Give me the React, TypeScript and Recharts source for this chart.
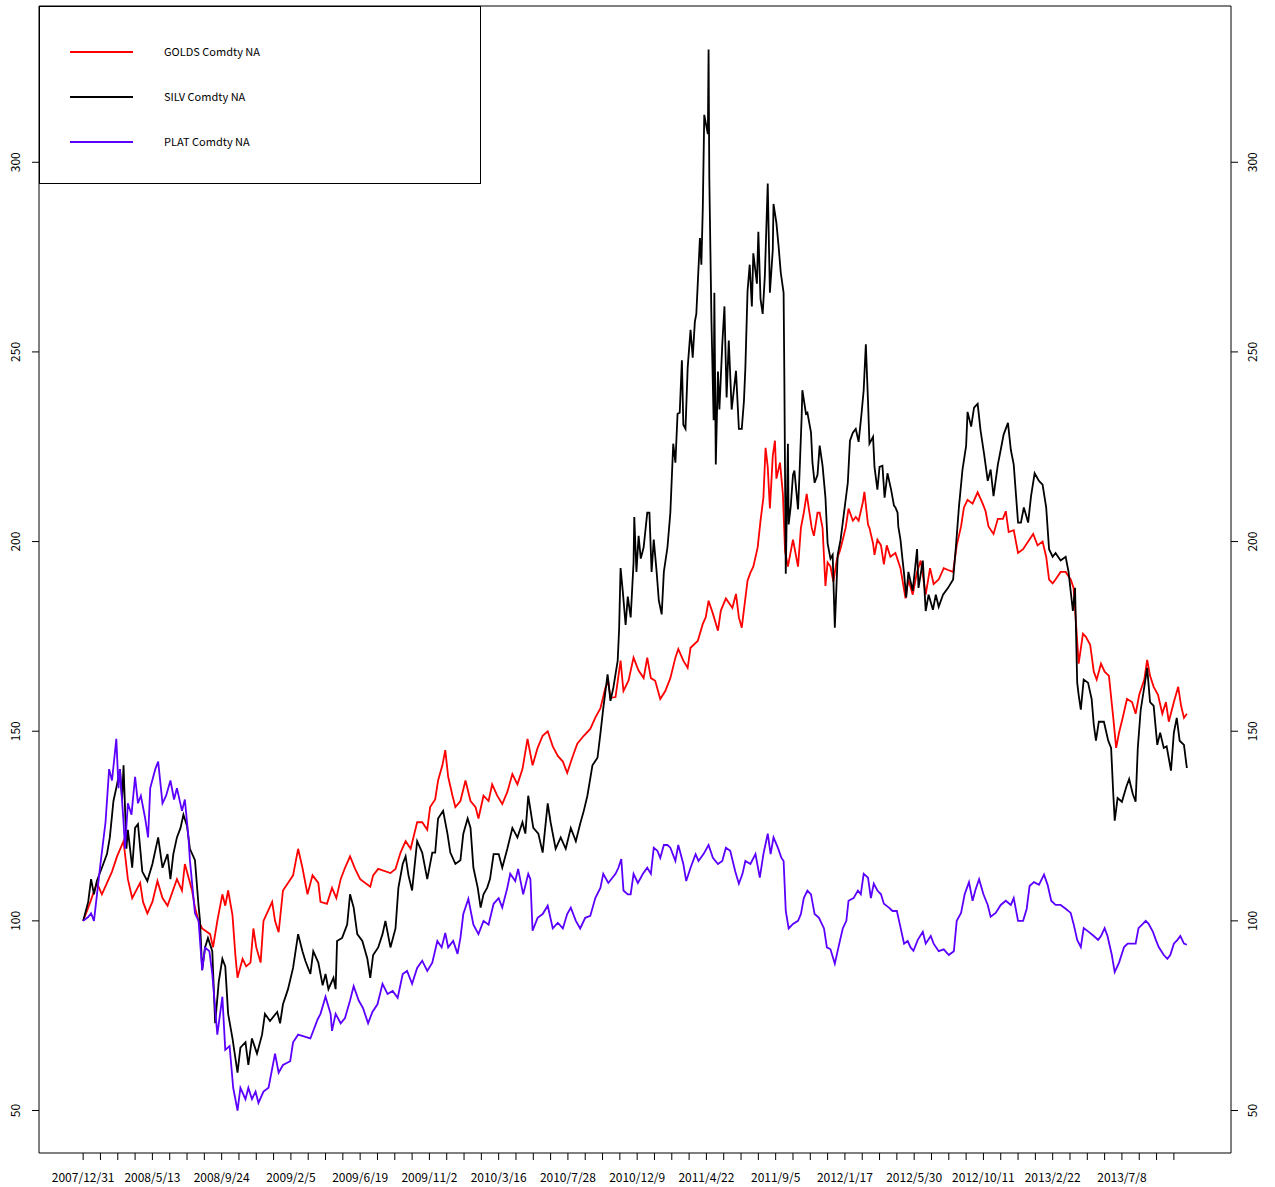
import React from "react";
import {
  LineChart,
  Line,
  XAxis,
  YAxis,
  Legend,
  ReferenceArea,
} from "recharts";

// observation number, index level (2007/12/31 = 100)
const gold: [number, number][] = [
  [1,100],[11,105],[20,110],[27,107],[41,113],[48,117],[57,121],[63,111],[69,106],[80,110],[84,105],[90,102],[97,105],[104,110.5],[111,106],[118,104],[131,111],[138,108],[142,115],[152,108],[156,103.5],[161,100],[166,98],[177,96.5],[181,93],[187,100],[194,107],[198,104],[202,108],[208,101.5],[212,91],[215,85],[222,90],[227,88],[233,89],[237,98],[241,93],[247,89],[251,100],[263,105],[267,100],[272,97],[278,108],[285,110],[292,112],[299,119],[305,114],[312,107],[319,112],[327,110],[330,105],[339,104.5],[346,108.7],[352,106],[358,111],[364,114],[371,117],[378,113.7],[385,111],[399,109],[403,112],[410,113.7],[427,112.6],[434,113.7],[441,118],[448,121],[455,119],[464,126],[471,126],[478,124],[482,130],[489,132],[493,137],[499,141],[503,145],[507,138],[513,133],[517,130],[524,131.6],[531,137],[538,131.6],[545,130],[549,127],[556,133],[563,131.6],[568,136],[575,133],[582,130.8],[589,134],[596,138.7],[603,136],[610,140],[617,148],[624,141],[631,145.6],[638,148.8],[645,150],[652,146],[659,143.5],[666,142],[672,139],[679,143],[686,146.7],[695,148.8],[704,150.6],[711,153.6],[718,156],[725,161.5],[729,163],[732,158.8],[739,159],[746,168.6],[750,160.6],[757,163.3],[764,169.4],[771,166],[778,164],[783,169.4],[788,164],[794,163.3],[801,158.5],[808,160.6],[815,164],[822,169.4],[826,171.7],[833,168.6],[839,166.7],[843,172],[853,173.8],[860,178.3],[864,180],[868,184.4],[874,181],[881,176.5],[885,181.8],[892,185],[901,182.5],[906,186.2],[910,180],[914,177.3],[917,182],[922,189.7],[926,191.8],[930,193.4],[936,198.4],[940,205.5],[944,211.6],[947,224.7],[950,219.7],[953,208.7],[957,222.6],[960,226.6],[962,216.6],[967,220.8],[971,212.6],[974,197.5],[978,193.4],[980,195.5],[985,200.5],[987,198.5],[992,193.4],[996,203.6],[1000,207.6],[1004,212.6],[1007,208.7],[1011,203.6],[1014,201.5],[1019,207.6],[1022,207.6],[1026,203.6],[1030,188.3],[1033,194.5],[1037,193.4],[1041,189.4],[1046,195.5],[1050,197.5],[1054,200.5],[1058,203.6],[1062,208.7],[1068,205.5],[1072,206.5],[1076,205.5],[1082,210.5],[1084,213.1],[1089,204.5],[1091,203.6],[1096,199.5],[1098,196.5],[1102,200.5],[1107,199],[1111,194],[1115,199],[1120,196],[1127,197],[1134,193],[1141,185],[1145,190],[1151,186],[1157,192],[1162,195],[1169,186],[1175,193],[1180,188.8],[1187,190],[1194,193],[1200,192.5],[1207,192],[1212,199],[1218,204],[1222,209],[1227,211],[1234,210],[1241,213],[1248,210],[1252,208],[1256,204],[1263,202],[1269,206],[1276,206],[1280,208],[1284,202.5],[1291,203],[1297,197],[1304,198],[1311,200],[1318,202],[1324,199],[1331,200],[1336,196],[1340,190],[1345,189],[1349,190],[1356,192],[1363,192],[1370,190],[1374,187.8],[1379,173.8],[1381,167.8],[1387,175.7],[1391,174.9],[1397,172.8],[1402,165.7],[1406,163.6],[1412,167.8],[1417,165.7],[1423,164.6],[1429,153.5],[1433,145.6],[1437,149.6],[1442,153.5],[1448,158.5],[1455,157.7],[1460,154.6],[1465,159.6],[1472,163.6],[1476,168.8],[1480,164.6],[1485,161.7],[1491,159.6],[1497,154.6],[1502,157.7],[1506,152.5],[1513,157.7],[1519,161.7],[1523,156.7],[1527,153.5],[1531,154.6],
];

const silver: [number, number][] = [
  [1,100],[8,105],[12,111],[16,107],[20,110.5],[27,114],[34,117.6],[38,122],[43,131.6],[48,136],[52,140],[55,132],[57,141],[61,119],[63,124],[69,114],[73,124.5],[77,125.5],[83,113],[90,110.5],[97,115],[105,122],[111,114],[118,117.6],[122,111],[126,117.6],[131,122],[136,124.5],[140,128],[145,125],[149,119],[156,116],[161,104],[163,100],[166,87],[170,93],[174,95.5],[180,92],[184,73],[189,84],[194,90],[198,88],[202,75.5],[208,69],[215,60],[219,66.6],[226,68],[230,62],[235,69],[242,65],[249,70],[253,75.5],[260,73.6],[270,76],[274,73],[278,78],[285,82],[292,87.6],[299,96.5],[305,92],[309,89.5],[316,86],[320,92],[327,89],[333,83],[337,86],[341,82],[348,85],[351,82],[353,94.7],[360,95.5],[367,99],[371,107],[376,103.5],[381,96.5],[388,94.7],[395,90],[399,85],[403,91],[410,93],[416,96.5],[420,100],[427,93],[434,98],[438,108.7],[444,115],[448,117],[452,112],[457,108],[464,121],[471,118],[478,111],[485,118],[489,118],[493,127],[500,129],[506,123],[510,118],[517,115],[524,116],[528,123],[534,127],[538,124.5],[542,114],[548,108.7],[552,103.5],[556,107],[561,108.7],[565,111],[570,117.6],[577,117.6],[582,114],[589,119],[596,124.5],[603,122],[610,126],[614,123],[618,133],[625,124.5],[632,123],[638,118],[645,131],[649,126],[656,119],[663,122],[670,119],[677,124.5],[684,121],[690,125.6],[695,129],[700,133],[707,141],[714,143],[718,149.3],[722,156],[728,165],[732,158],[736,161.5],[742,168.6],[744,177],[746,193],[749,187],[753,178],[756,185.5],[760,180],[764,194.5],[765,206.5],[768,192],[771,201.5],[774,195.5],[778,198.5],[783,207.6],[786,207.6],[789,192],[792,200.5],[796,192],[799,184.5],[803,180.8],[806,192],[811,198.5],[815,207.6],[819,225.8],[822,220.8],[825,233.7],[828,234],[831,247.8],[833,230.8],[836,229.7],[839,245.8],[843,255.8],[846,248.5],[849,258],[851,260],[853,268],[856,280],[858,273],[860,288],[862,312.5],[867,307.4],[868,329.7],[869,296],[872,258],[875,232],[876,265.6],[878,220.3],[881,244.8],[883,234.8],[887,252],[890,262],[893,238],[896,253],[900,234.8],[903,239.9],[906,245],[910,229.7],[914,229.7],[917,237],[919,245.8],[922,266],[925,273],[928,262],[930,276],[935,268],[937,281.7],[940,264],[943,260],[946,270],[950,294.4],[953,265.6],[957,276.9],[958,289],[962,284],[965,278],[968,271],[972,265.6],[973,244],[975,191.5],[978,225.8],[979,204.5],[982,209.5],[985,217.6],[987,218.7],[992,208.5],[994,217.6],[997,232.8],[998,239.9],[1003,233.7],[1005,234],[1010,228.7],[1012,220.8],[1015,215.5],[1019,217.6],[1022,225.3],[1026,220],[1030,211.6],[1033,199.5],[1037,195.5],[1040,196.5],[1043,177.3],[1047,196.5],[1051,200.5],[1055,206.5],[1061,215.5],[1064,226.6],[1068,228.7],[1072,229.7],[1076,226.3],[1080,233.7],[1083,239.9],[1086,252],[1089,237],[1091,225.8],[1096,227.6],[1098,219.7],[1102,213.7],[1105,219.7],[1109,220],[1112,211.6],[1116,218],[1121,213.7],[1125,209.5],[1127,209],[1130,207.6],[1131,204],[1134,200.5],[1137,195],[1139,191.5],[1142,185.3],[1145,192],[1151,187],[1157,198],[1159,187.8],[1165,195],[1169,181.7],[1173,186],[1179,182],[1183,186],[1187,182.8],[1193,186],[1200,187.8],[1207,190],[1211,199],[1215,209],[1220,219],[1225,225.2],[1227,234.2],[1232,230.3],[1236,235.3],[1241,236.3],[1245,229.3],[1250,223],[1255,216],[1259,219],[1263,212],[1269,220.3],[1273,224.2],[1277,228.2],[1283,231.3],[1287,224.2],[1291,220.3],[1297,205],[1301,205],[1305,209],[1311,205],[1315,212],[1320,218],[1326,216],[1331,215],[1336,209],[1340,198],[1345,196],[1349,197],[1356,195],[1363,196],[1367,192],[1373,181.7],[1376,187.8],[1379,162.8],[1381,159.6],[1384,155.7],[1388,163.6],[1394,162.8],[1399,158.5],[1402,151.7],[1405,147.5],[1409,152.5],[1416,152.5],[1422,147.5],[1426,145.6],[1429,133.5],[1431,126.4],[1435,132.4],[1441,131.4],[1447,135.3],[1451,137.4],[1456,133.5],[1460,131.4],[1463,145.6],[1467,155.6],[1472,161.7],[1476,166.7],[1480,157.7],[1485,156.7],[1490,146.4],[1494,149.6],[1499,145.6],[1503,146],[1509,139.6],[1513,149.6],[1517,153.5],[1521,147.5],[1527,146.4],[1531,140.3],
];

const plat: [number, number][] = [
  [1,100],[8,101],[12,102],[16,100],[25,115],[32,126],[37,140],[41,137],[47,148],[50,135],[52,140],[57,126],[59,119],[63,131],[68,128],[73,138],[77,131],[81,133],[87,127],[91,122],[94,135],[101,140],[105,142],[111,131],[116,133],[122,137],[127,132],[131,135],[138,129],[142,132],[147,122],[149,116],[156,102],[161,100],[166,87],[170,93],[176,92],[180,86],[187,70],[194,80],[198,66],[204,67],[209,56],[215,50],[219,56],[226,53],[230,56],[235,53],[240,55],[244,52],[251,55],[258,56],[267,65],[272,60],[278,62],[288,63],[292,68],[299,70],[308,69.5],[316,69],[326,74],[330,75.5],[337,80],[344,75.5],[346,71],[351,75.5],[358,73],[364,74.4],[371,79],[376,82.8],[383,79],[389,77],[396,73],[402,76],[409,78],[416,83.4],[423,80.7],[430,81.5],[437,79.7],[444,86],[450,86.8],[457,83.4],[464,87.6],[471,89.5],[478,86.8],[485,89],[492,94.7],[498,93],[503,96.8],[507,93],[514,94.7],[520,91.3],[524,95.5],[528,101.8],[535,105.8],[542,99],[549,96.5],[556,100],[563,99],[570,104.5],[577,106],[582,103.5],[589,108.7],[593,112.4],[600,110.5],[604,113.7],[611,107],[618,112.4],[621,111],[624,97.4],[631,100.8],[638,101.8],[645,104],[652,98],[659,99.5],[666,98],[672,101.8],[677,103.5],[684,100],[690,98],[697,100.8],[704,101.3],[711,106],[718,108.7],[722,112.4],[729,110],[739,112.4],[743,114],[747,116.3],[750,108],[756,107],[760,107],[764,112.4],[770,110],[777,112.4],[783,114],[788,112.4],[792,119.3],[797,118.5],[801,116.6],[806,120],[811,120],[815,119.3],[822,115.8],[826,120],[833,115],[837,110.5],[843,114],[850,117.6],[854,115.8],[861,117.6],[868,120],[874,116.6],[881,115],[887,115.8],[892,119.3],[898,118.5],[905,113],[910,109.8],[915,112.4],[919,115.8],[926,115],[933,117.6],[939,111.4],[944,117.6],[950,123],[954,117.6],[958,122],[964,119.3],[969,116.6],[972,115.8],[975,102.6],[979,98],[985,99.2],[992,100],[996,101.8],[1000,106],[1005,108],[1010,107],[1015,101.8],[1021,100.8],[1028,98],[1032,93],[1037,92.5],[1043,88.7],[1048,93],[1054,98],[1059,100],[1062,105.3],[1069,106],[1075,108],[1079,107],[1083,112.4],[1089,111.4],[1093,106],[1097,109.8],[1102,108],[1107,107],[1111,104.5],[1118,103.5],[1123,102.6],[1129,102.6],[1133,99.2],[1139,94],[1144,94.7],[1148,93],[1152,92.1],[1158,95],[1165,97.1],[1169,94],[1176,96],[1180,94],[1187,92],[1194,92.5],[1201,91],[1208,92],[1212,100],[1218,102.1],[1223,107],[1229,110.2],[1234,105.3],[1238,108.2],[1243,111],[1249,107],[1255,104.2],[1259,101.1],[1266,102.1],[1273,104.2],[1280,105.3],[1287,104.2],[1291,106],[1297,100],[1304,100],[1309,103.2],[1313,109.2],[1319,110.2],[1326,109.5],[1333,112.2],[1338,109.5],[1343,105.3],[1349,104.2],[1356,104.2],[1363,103.2],[1370,102.1],[1374,99.2],[1379,95],[1384,93.1],[1388,98.1],[1395,97.1],[1402,96],[1408,95],[1412,96],[1417,98.1],[1421,96],[1427,91],[1431,86.5],[1437,89],[1444,93.1],[1449,94],[1456,94],[1460,94],[1464,98.1],[1470,99.2],[1474,100],[1478,99.2],[1484,97.1],[1488,95],[1492,93.1],[1499,91],[1504,90],[1508,91],[1513,94],[1518,95],[1522,96],[1527,94],[1531,93.7],
];

const seriesNames = ["GOLDS Comdty NA", "SILV Comdty NA", "PLAT Comdty NA"];
const seriesColors = ["#ff0000", "#000000", "#5b00ff"];

// a tick every 24 observations, a date label on every 4th one
const xTicks = Array.from({ length: 64 }, (_, k) => 1 + 24 * k);
const dateLabels = [
  "2007/12/31", "2008/5/13", "2008/9/24", "2009/2/5", "2009/6/19", "2009/11/2",
  "2010/3/16", "2010/7/28", "2010/12/9", "2011/4/22", "2011/9/5", "2012/1/17",
  "2012/5/30", "2012/10/11", "2013/2/22", "2013/7/8",
];
const yTicks = [50, 100, 150, 200, 250, 300];

const X_DOMAIN: [number, number] = [-60.2, 1592.2];
const Y_DOMAIN: [number, number] = [38.8, 341.2];
const FONT = "'Noto Sans CJK JP', 'Noto Sans', sans-serif";

const toRows = (pts: [number, number][]) => pts.map(([i, v]) => ({ i, v }));

const XTick = (props: any) => {
  const { x, y, payload } = props;
  const k = (payload.value - 1) / 96;
  if (!Number.isInteger(k) || !dateLabels[k]) return <g />;
  return (
    <text x={x} y={y + 16} textAnchor="middle" dominantBaseline="central"
      fontSize={12} fontFamily={FONT} fill="#000">
      {dateLabels[k]}
    </text>
  );
};

const YTick = (props: any) => {
  const { x, y, payload, side } = props;
  const cx = side === "left" ? x - 17 : x + 14;
  return (
    <text x={cx} y={y} transform={`rotate(-90 ${cx} ${y})`} textAnchor="middle"
      dominantBaseline="central" fontSize={12} fontFamily={FONT} fill="#000">
      {payload.value}
    </text>
  );
};

const LegendBox = () => (
  <div style={{ width: 442, height: 178, border: "1px solid #000", boxSizing: "border-box",
    background: "#fff", position: "relative", fontFamily: FONT, fontSize: 11 }}>
    {seriesNames.map((name, k) => (
      <div key={name}>
        <div style={{ position: "absolute", left: 30, top: 44 + 45 * k, width: 63, height: 2,
          background: seriesColors[k] }} />
        <div style={{ position: "absolute", left: 124, top: 35 + 45 * k, lineHeight: "18px",
          whiteSpace: "nowrap", color: "#000" }}>{name}</div>
      </div>
    ))}
  </div>
);

export default function App() {
  const rows = [gold, silver, plat].map(toRows);
  return (
    <div style={{ position: "absolute", left: 0, top: 0, background: "#fff" }}>
      <LineChart width={1275} height={1187} margin={{ top: 6, right: 0, bottom: 0, left: 0 }}>
        <XAxis type="number" dataKey="i" domain={X_DOMAIN} ticks={xTicks} interval={0}
          allowDataOverflow height={34} tickSize={7} tickMargin={0} axisLine={false}
          tickLine={{ stroke: "#000" }} tick={<XTick />} />
        <YAxis domain={Y_DOMAIN} ticks={yTicks} allowDataOverflow width={39} tickSize={7}
          tickMargin={0} axisLine={false} tickLine={{ stroke: "#000" }}
          tick={<YTick side="left" />} />
        <YAxis yAxisId="r" orientation="right" domain={Y_DOMAIN} ticks={yTicks} allowDataOverflow
          width={44} tickSize={7} tickMargin={0} axisLine={false} tickLine={{ stroke: "#000" }}
          tick={<YTick side="right" />} />
        <ReferenceArea x1={X_DOMAIN[0]} x2={X_DOMAIN[1]} y1={Y_DOMAIN[0]} y2={Y_DOMAIN[1]}
          fill="none" stroke="#000" strokeWidth={1} fillOpacity={0} />
        {rows.map((data, k) => (
          <Line key={seriesNames[k]} data={data} dataKey="v" name={seriesNames[k]}
            type="linear" stroke={seriesColors[k]} strokeWidth={1.8} dot={false}
            activeDot={false} isAnimationActive={false} />
        ))}
        <Legend layout="horizontal" verticalAlign="middle" align="center"
          wrapperStyle={{ left: 39, top: 6, width: 442, height: 178 }}
          content={() => <LegendBox />} />
      </LineChart>
    </div>
  );
}
